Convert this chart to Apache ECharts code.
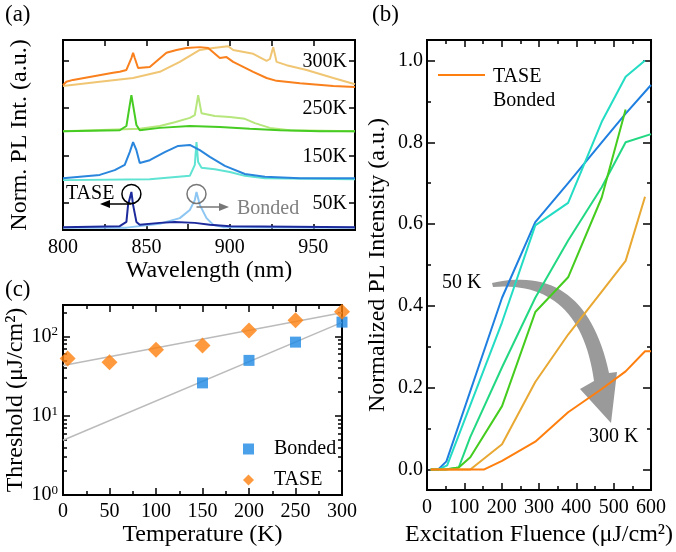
<!DOCTYPE html>
<html><head><meta charset="utf-8">
<script src="https://cdn.jsdelivr.net/npm/echarts@6/dist/echarts.min.js"></script>
<style>html,body{margin:0;padding:0;background:#fff}#c{width:676px;height:552px}</style>
</head><body><div id="c"></div>
<script>
const FONT = '"Liberation Serif","Times New Roman",serif';

// ---------- (a) PL spectra (wavelength nm, offset normalized intensity) ----------
const specLabels = ['50K', '150K', '250K', '300K'];
const specLabelLevels = [0.57, 1.57, 2.57, 3.57];
const bonded50 = [[800,0.05],[838,0.05],[858,0.13],[870,0.25],[876,0.42],[879,0.63],[880,0.8],[882,0.53],[886,0.25],[890,0.11],[896,0.06],[975,0.05]];
const tase50 = [[800,0.06],[834,0.08],[838,0.17],[839,0.53],[841,0.8],[842,0.53],[844,0.17],[846,0.11],[858,0.15],[867,0.17],[879,0.15],[888,0.11],[900,0.08],[975,0.06]];
const bonded150 = [[800,1.05],[852,1.07],[876,1.14],[879,1.37],[880,1.85],[881,1.43],[883,1.31],[891,1.28],[900,1.22],[909,1.14],[921,1.09],[975,1.07]];
const tase150 = [[800,1.09],[822,1.16],[831,1.26],[837,1.37],[840,1.64],[842,1.85],[844,1.68],[846,1.41],[852,1.47],[861,1.64],[869,1.77],[876,1.79],[882,1.68],[888,1.54],[897,1.35],[909,1.18],[921,1.12],[942,1.09],[975,1.09]];
const bonded250 = [[800,2.08],[846,2.13],[858,2.19],[867,2.27],[876,2.36],[879,2.42],[881,2.84],[883,2.46],[891,2.40],[900,2.38],[909,2.34],[915,2.25],[924,2.15],[936,2.10],[975,2.08]];
const tase250 = [[800,2.08],[834,2.10],[838,2.19],[840,2.63],[841,2.84],[842,2.63],[844,2.21],[846,2.10],[858,2.15],[876,2.19],[894,2.17],[912,2.13],[930,2.10],[954,2.08],[975,2.08]];
const bonded300 = [[800,3.03],[822,3.12],[842,3.20],[858,3.33],[870,3.54],[882,3.79],[890,3.83],[899,3.87],[902,3.79],[914,3.71],[922,3.56],[924,3.60],[926,3.85],[928,3.54],[934,3.47],[946,3.37],[962,3.20],[975,3.07]];
const tase300 = [[800,3.05],[802,3.12],[806,3.16],[830,3.31],[834,3.33],[838,3.37],[841,3.62],[842,3.73],[843,3.62],[845,3.41],[852,3.43],[862,3.73],[868,3.79],[874,3.83],[882,3.85],[887,3.83],[894,3.62],[898,3.64],[902,3.54],[914,3.33],[922,3.20],[928,3.14],[942,3.09],[962,3.03],[975,3.01]];

// ---------- (b) normalized PL intensity vs excitation fluence ----------
const fl50 = [[10,0],[30,0],[52,0.02],[201,0.42],[290,0.605],[378,0.70],[468,0.80],[532,0.87],[600,0.94]];
const fl100 = [[10,0],[30,0],[54,0.01],[201,0.36],[290,0.597],[378,0.652],[468,0.85],[532,0.96],[584,1.0]];
const fl150 = [[10,0],[50,0],[85,0.005],[116,0.08],[201,0.25],[290,0.42],[378,0.56],[468,0.69],[532,0.80],[600,0.82]];
const fl200 = [[10,0],[50,0],[85,0.005],[116,0.03],[201,0.155],[290,0.385],[378,0.47],[468,0.665],[532,0.88]];
const fl250 = [[10,0],[116,0],[201,0.062],[290,0.214],[378,0.33],[468,0.435],[532,0.51],[584,0.667]];
const fl300 = [[10,0],[152,0],[201,0.021],[290,0.068],[378,0.14],[468,0.197],[532,0.24],[584,0.289],[600,0.289]];

// ---------- (c) threshold vs temperature ----------
const bondedThr = [[150,26],[200,50],[250,85],[300,152]];
const taseThr = [[5,53],[50,47.5],[100,68],[150,77],[200,119],[250,161],[300,205]];
const bondedFit = [[0,4.9],[300,151]];
const taseFit = [[0,43],[300,200]];
const logMajor = [1, 10, 100];
const logMinor = [2,3,4,5,6,7,8,9,20,30,40,50,60,70,80,90,200];

const chart = echarts.init(document.getElementById('c'));
const txt = (s) => Object.assign({fontFamily: FONT, color: '#000'}, s || {});
const tickStyle = {color: '#000', width: 1.5};
const TICKFS = 20, TITLEFS = 24;

function xAx(grid, min, max, interval, pos, opts) {
  return Object.assign({
    gridIndex: grid, type: 'value', min: min, max: max, interval: interval, position: pos,
    axisLine: {show: false, onZero: false}, splitLine: {show: false},
    axisTick: {inside: true, length: 7, lineStyle: tickStyle},
    axisLabel: {show: false}
  }, opts || {});
}
function yAx(grid, min, max, pos, ticks, len, opts, type) {
  return Object.assign({
    gridIndex: grid, type: type || 'value', min: min, max: max, position: pos,
    axisLine: {show: false, onZero: false}, splitLine: {show: false},
    axisTick: {inside: true, length: len, customValues: ticks, lineStyle: tickStyle},
    axisLabel: {show: false}
  }, opts || {});
}

const lineS = (name, data, color, xi, yi, w) => ({
  name: name, type: 'line', data: data, xAxisIndex: xi, yAxisIndex: yi,
  showSymbol: false, symbol: 'none', animation: false,
  lineStyle: {color: color, width: w || 2}, itemStyle: {color: color}
});

const bMajor = [0, 0.2, 0.4, 0.6, 0.8, 1.0];
const bMinor = [0.1, 0.3, 0.5, 0.7, 0.9];

const option = {
  animation: false,
  backgroundColor: '#fff',
  grid: [
    {left: 63, top: 40, width: 292, height: 190, show: true, borderColor: '#000', borderWidth: 2, backgroundColor: 'transparent'},
    {left: 427, top: 40, width: 233, height: 450, show: true, borderColor: '#000', borderWidth: 2, backgroundColor: 'transparent'},
    {left: 63, top: 305, width: 279, height: 190, show: true, borderColor: '#000', borderWidth: 2, backgroundColor: 'transparent'}
  ],
  xAxis: [
    xAx(0, 800, 975, 25, 'bottom', {
      axisTick: {inside: true, length: 6, lineStyle: tickStyle},
      axisLabel: txt({show: true, fontSize: TICKFS, margin: 8, formatter: v => (v % 50 === 0 && v < 975) ? String(v) : ''}),
      name: 'Wavelength (nm)', nameLocation: 'middle', nameGap: 25, nameTextStyle: txt({fontSize: TITLEFS})
    }),
    xAx(0, 800, 975, 25, 'top', {axisTick: {inside: true, length: 6, lineStyle: tickStyle}}),
    xAx(1, 0, 600, 100, 'bottom', {
      minorTick: {show: true, splitNumber: 2, length: 4, lineStyle: tickStyle},
      axisLabel: txt({show: true, fontSize: TICKFS, margin: 8}),
      name: 'Excitation Fluence (μJ/cm²)', nameLocation: 'middle', nameGap: 29, nameTextStyle: txt({fontSize: TITLEFS})
    }),
    xAx(1, 0, 600, 100, 'top', {minorTick: {show: true, splitNumber: 2, length: 4, lineStyle: tickStyle}}),
    xAx(2, 0, 300, 50, 'bottom', {
      minorTick: {show: true, splitNumber: 2, length: 4, lineStyle: tickStyle},
      axisLabel: txt({show: true, fontSize: TICKFS, margin: 7}),
      name: 'Temperature (K)', nameLocation: 'middle', nameGap: 25, nameTextStyle: txt({fontSize: TITLEFS})
    }),
    xAx(2, 0, 300, 50, 'top', {minorTick: {show: true, splitNumber: 2, length: 4, lineStyle: tickStyle}})
  ],
  yAxis: [
    yAx(0, 0, 4, 'left', specLabelLevels, 6, {
      name: 'Norm. PL Int. (a.u.)', nameLocation: 'middle', nameGap: 31, nameTextStyle: txt({fontSize: TITLEFS})
    }),
    yAx(0, 0, 4, 'right', specLabelLevels, 6),
    yAx(1, -0.05, 1.05, 'left', bMajor, 8, {
      axisLabel: txt({show: true, fontSize: TICKFS, margin: 4, customValues: bMajor, formatter: v => v.toFixed(1)}),
      name: 'Normalized PL Intensity (a.u.)', nameLocation: 'middle', nameGap: 37, nameTextStyle: txt({fontSize: TITLEFS})
    }),
    yAx(1, -0.05, 1.05, 'left', bMinor, 4),
    yAx(1, -0.05, 1.05, 'right', bMajor, 8),
    yAx(1, -0.05, 1.05, 'right', bMinor, 4),
    yAx(2, 1, 250, 'left', logMajor, 7, {
      logBase: 10,
      axisLabel: {show: true, margin: 5, customValues: logMajor,
        formatter: v => '{b|10}{s|' + Math.round(Math.log10(v)) + '}',
        rich: {b: txt({fontSize: TICKFS, lineHeight: 22}), s: txt({fontSize: 13, verticalAlign: 'top', lineHeight: 13})}},
      name: 'Threshold (μJ/cm²)', nameLocation: 'middle', nameGap: 33, nameTextStyle: txt({fontSize: TITLEFS})
    }, 'log'),
    yAx(2, 1, 250, 'left', logMinor, 4, {logBase: 10}, 'log'),
    yAx(2, 1, 250, 'right', logMajor, 7, {logBase: 10}, 'log'),
    yAx(2, 1, 250, 'right', logMinor, 4, {logBase: 10}, 'log')
  ],
  legend: {
    data: ['Bonded', 'TASE'], orient: 'vertical', left: 238, top: 434,
    itemWidth: 11, itemHeight: 11, itemGap: 11, selectedMode: false,
    textStyle: txt({fontSize: TICKFS, padding: [0, 0, 0, 15]})
  },
  series: [
    lineS('b50', bonded50, '#8DC6F3', 0, 0),
    lineS('t50', tase50, '#1C2A9C', 0, 0),
    lineS('b150', bonded150, '#5FE3D2', 0, 0),
    lineS('t150', tase150, '#2A86DD', 0, 0),
    lineS('b250', bonded250, '#B6E67C', 0, 0),
    lineS('t250', tase250, '#46CC22', 0, 0),
    lineS('b300', bonded300, '#F0C674', 0, 0),
    lineS('t300', tase300, '#F9801C', 0, 0),

    lineS('50 K', fl50, '#1E7FE0', 2, 2),
    lineS('100 K', fl100, '#22DCC4', 2, 2),
    lineS('150 K', fl150, '#22D882', 2, 2),
    lineS('200 K', fl200, '#44CC1E', 2, 2),
    lineS('250 K', fl250, '#E8A832', 2, 2),
    lineS('300 K', fl300, '#FF7F0E', 2, 2),

    lineS('fitB', bondedFit, '#BBBBBB', 4, 6, 1.5),
    lineS('fitT', taseFit, '#BBBBBB', 4, 6, 1.5),
    {name: 'Bonded', type: 'scatter', data: bondedThr, xAxisIndex: 4, yAxisIndex: 6,
     symbol: 'rect', symbolSize: 11, itemStyle: {color: '#1E88E5'}, z: 5},
    {name: 'TASE', type: 'scatter', data: taseThr, xAxisIndex: 4, yAxisIndex: 6,
     symbol: 'diamond', symbolSize: 16, itemStyle: {color: '#FF7F0E'}, z: 5}
  ]
};
chart.setOption(option);

// ---------- annotations ----------
function quad(p0, c, p1, n) {
  const pts = [];
  for (let i = 0; i <= n; i++) {
    const t = i / n, u = 1 - t;
    pts.push([u*u*p0[0] + 2*u*t*c[0] + t*t*p1[0], u*u*p0[1] + 2*u*t*c[1] + t*t*p1[1]]);
  }
  return pts;
}
const outer = quad([492,283],[585,262],[609,373],30);
const inner = quad([594,381],[580,280],[493,287],30);
const arrowPts = outer.concat([[617,372],[611,423],[580,389]]).concat(inner);

const labelGraphics = specLabels.map((s, i) => {
  const p = chart.convertToPixel({xAxisIndex: 0, yAxisIndex: 0}, [975, specLabelLevels[i]]);
  return {type: 'text', x: p[0] - 8, y: p[1] + 1, style: {text: s, font: TICKFS + 'px ' + FONT, align: 'right', verticalAlign: 'middle', fill: '#000'}};
});
const cT = chart.convertToPixel({xAxisIndex: 0, yAxisIndex: 0}, [841, 0.76]);
const cB = chart.convertToPixel({xAxisIndex: 0, yAxisIndex: 0}, [880, 0.76]);

chart.setOption({
  graphic: labelGraphics.concat([
    {type: 'text', x: 5, y: 15, style: {text: '(a)', font: '23px ' + FONT, fill: '#000', verticalAlign: 'middle'}},
    {type: 'text', x: 372, y: 15, style: {text: '(b)', font: '23px ' + FONT, fill: '#000', verticalAlign: 'middle'}},
    {type: 'text', x: 5, y: 290, style: {text: '(c)', font: '23px ' + FONT, fill: '#000', verticalAlign: 'middle'}},
    {type: 'circle', shape: {cx: cT[0], cy: cT[1], r: 9.5}, style: {fill: 'none', stroke: '#000', lineWidth: 1.5}, z: 10},
    {type: 'circle', shape: {cx: cB[0], cy: cB[1], r: 9.5}, style: {fill: 'none', stroke: '#777', lineWidth: 1.5}, z: 10},
    {type: 'line', shape: {x1: cT[0], y1: 204, x2: 106, y2: 204}, style: {stroke: '#000', lineWidth: 1.5}, z: 10},
    {type: 'polygon', shape: {points: [[100,204],[110,200],[110,208]]}, style: {fill: '#000'}, z: 10},
    {type: 'line', shape: {x1: cB[0], y1: 207, x2: 222, y2: 207}, style: {stroke: '#777', lineWidth: 1.5}, z: 10},
    {type: 'polygon', shape: {points: [[229,207],[219,203],[219,211]]}, style: {fill: '#777'}, z: 10},
    {type: 'text', x: 66, y: 194, style: {text: 'TASE', font: '20px ' + FONT, fill: '#000', verticalAlign: 'middle'}, z: 10},
    {type: 'text', x: 237, y: 209, style: {text: 'Bonded', font: '20px ' + FONT, fill: '#808080', verticalAlign: 'middle'}, z: 10},
    // (b) legend
    {type: 'line', shape: {x1: 438, y1: 75, x2: 485, y2: 75}, style: {stroke: '#FF7F0E', lineWidth: 2}, z: 10},
    {type: 'text', x: 493, y: 77, style: {text: 'TASE', font: '20px ' + FONT, fill: '#000', verticalAlign: 'middle'}, z: 10},
    {type: 'text', x: 493, y: 101, style: {text: 'Bonded', font: '20px ' + FONT, fill: '#000', verticalAlign: 'middle'}, z: 10},
    // (b) curved arrow
    {type: 'polygon', shape: {points: arrowPts}, style: {fill: '#9A9A9A'}, z: 1},
    {type: 'text', x: 442, y: 283, style: {text: '50 K', font: '20px ' + FONT, fill: '#000', verticalAlign: 'middle'}, z: 10},
    {type: 'text', x: 589, y: 437, style: {text: '300 K', font: '20px ' + FONT, fill: '#000', verticalAlign: 'middle'}, z: 10}
  ])
});
</script>
</body></html>
